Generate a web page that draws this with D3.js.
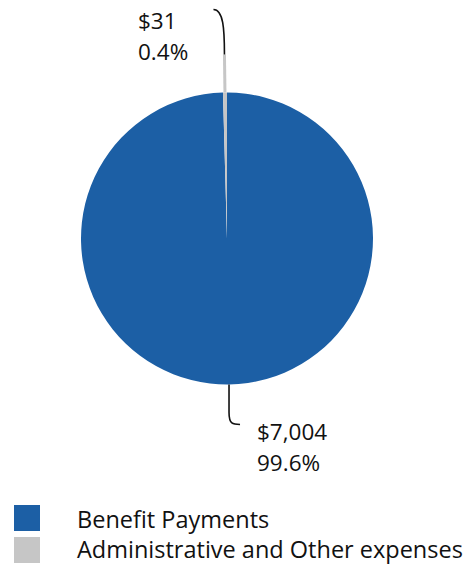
<!DOCTYPE html>
<html><head>
<meta charset="utf-8">
<script src="https://d3js.org/d3.v7.min.js"></script>
<style>
  body { margin: 0; background: #fff; }
  text { font-family: "Open Sans", sans-serif; fill: #111; }
</style>
</head>
<body>
<svg id="chart" width="467" height="567"></svg>
<script>
// Data (millions of dollars)
const categories = ["Benefit Payments", "Administrative and Other expenses"];
const amounts = [7004, 31];
const colors = ["#1c5fa5", "#c6c6c6"];

const svg = d3.select("#chart");
const cx = 227, cy = 238.5, radius = 146;
const total = d3.sum(amounts);

const pie = d3.pie().sort(null).value(d => d)(amounts);
const arc = d3.arc().innerRadius(0).outerRadius(radius);

const g = svg.append("g").attr("transform", `translate(${cx},${cy})`);

g.selectAll("path.slice").data(pie)
  .join("path")
  .attr("class", "slice")
  .attr("d", arc)
  .attr("fill", (d, i) => colors[i]);

// point on a ray from the centre at angle a (0 = up, clockwise)
const pt = (a, r) => [r * Math.sin(a), -r * Math.cos(a)];
const mid = d => (d.startAngle + d.endAngle) / 2;

// --- leader for the small slice (top) ---
const aSmall = mid(pie[1]);
const [x0, y0] = pt(aSmall, radius);
const [x1, y1] = pt(aSmall, radius + 38);
g.append("line")
  .attr("x1", x0).attr("y1", y0).attr("x2", x1).attr("y2", y1)
  .attr("stroke", colors[1]).attr("stroke-width", 3);
g.append("path")
  .attr("d", `M${x1},${y1} C${x1},${y1 - 25} ${x1 - 1},${y1 - 45} ${x1 - 11},${y1 - 45}`)
  .attr("fill", "none").attr("stroke", "#111").attr("stroke-width", 1.6);

// --- leader for the big slice (bottom) ---
const aBig = mid(pie[0]);
const [bx0, by0] = pt(aBig, radius);
g.append("path")
  .attr("d", `M${bx0},${by0} L${bx0},${by0 + 28} C${bx0},${by0 + 40} ${bx0 + 4},${by0 + 40} ${bx0 + 11},${by0 + 40}`)
  .attr("fill", "none").attr("stroke", "#111").attr("stroke-width", 1.6);

const fmtMoney = v => "$" + d3.format(",")(v);
const fmtPct = d3.format(".1%");

// value labels
const labels = [
  { i: 1, x: 138, y: 29 },
  { i: 0, x: 257, y: 440 }
];
labels.forEach(l => {
  svg.append("text").attr("x", l.x).attr("y", l.y)
    .attr("font-size", 22.5).text(fmtMoney(amounts[l.i]));
  svg.append("text").attr("x", l.x).attr("y", l.y + 31)
    .attr("font-size", 22.5).text(fmtPct(amounts[l.i] / total));
});

// legend
const legend = svg.append("g").attr("transform", "translate(14,505)");
const items = legend.selectAll("g").data(categories).join("g");
items.append("rect").attr("y", (d, i) => i * 32)
  .attr("width", 26).attr("height", 26)
  .attr("fill", (d, i) => colors[i]);
items.append("text").attr("x", 63).attr("y", (d, i) => 23 + i * 30)
  .attr("font-size", 23.5).text(d => d);
</script>
</body>
</html>
